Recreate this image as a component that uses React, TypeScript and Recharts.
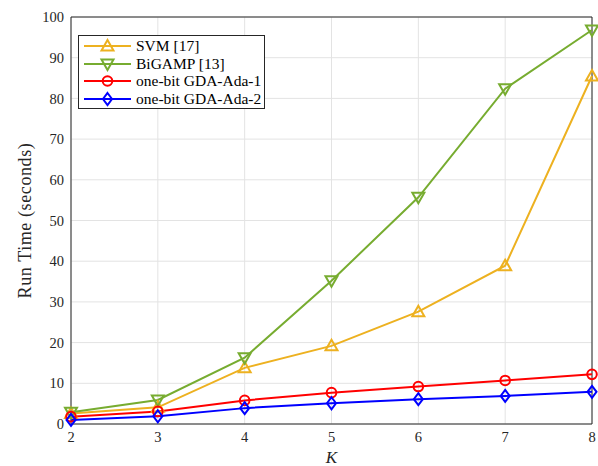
import React from "react";
import {
  LineChart,
  Line,
  XAxis,
  YAxis,
  CartesianGrid,
  Legend,
  ReferenceArea,
} from "recharts";

// K values on the x axis
const K = [2, 3, 4, 5, 6, 7, 8];
const X_TICKS = [2, 3, 4, 5, 6, 7, 8];
const Y_TICKS = [0, 10, 20, 30, 40, 50, 60, 70, 80, 90, 100];

// run time in seconds
const svm = [2.6, 4.1, 13.8, 19.2, 27.6, 38.9, 85.5];
const bigamp = [2.9, 5.9, 16.3, 35.2, 55.7, 82.4, 96.8];
const gdaAda1 = [1.8, 3.1, 5.8, 7.7, 9.2, 10.7, 12.2];
const gdaAda2 = [1.0, 1.9, 3.9, 5.1, 6.1, 6.9, 7.9];

const data = K.map((k, i) => ({
  k,
  svm: svm[i],
  bigamp: bigamp[i],
  gda1: gdaAda1[i],
  gda2: gdaAda2[i],
}));

type Shape = "up" | "down" | "circle" | "diamond";

const SERIES: { key: string; name: string; color: string; shape: Shape }[] = [
  { key: "svm", name: "SVM [17]", color: "#EDB120", shape: "up" },
  { key: "bigamp", name: "BiGAMP [13]", color: "#77AC30", shape: "down" },
  { key: "gda1", name: "one-bit GDA-Ada-1", color: "#FF0000", shape: "circle" },
  { key: "gda2", name: "one-bit GDA-Ada-2", color: "#0000FF", shape: "diamond" },
];

const FONT = '"Liberation Serif", "Times New Roman", serif';
const AXIS = "#262626";
const GRID = "#e3e3e3";

function Marker({ cx, cy, shape, color }: { cx: number; cy: number; shape: Shape; color: string }) {
  const common = { fill: "none", stroke: color, strokeWidth: 2 };
  if (shape === "up") {
    return <polygon points={`${cx},${cy - 6} ${cx - 6},${cy + 4.5} ${cx + 6},${cy + 4.5}`} {...common} />;
  }
  if (shape === "down") {
    return <polygon points={`${cx},${cy + 6} ${cx - 6},${cy - 4.5} ${cx + 6},${cy - 4.5}`} {...common} />;
  }
  if (shape === "circle") {
    return <circle cx={cx} cy={cy} r={4.8} {...common} />;
  }
  return <polygon points={`${cx},${cy - 6} ${cx + 4.5},${cy} ${cx},${cy + 6} ${cx - 4.5},${cy}`} {...common} />;
}

function dotFor(shape: Shape, color: string) {
  return (props: any) => {
    const { cx, cy, index } = props;
    if (cx == null || cy == null) return <g key={`d-${index}`} />;
    return (
      <g key={`d-${shape}-${index}`}>
        <Marker cx={cx} cy={cy} shape={shape} color={color} />
      </g>
    );
  };
}

function LegendBox() {
  return (
    <div
      style={{
        border: `1px solid ${AXIS}`,
        background: "#fff",
        width: 187,
        height: 74,
        boxSizing: "border-box",
        paddingTop: 1,
        fontFamily: FONT,
        fontSize: 15.5,
        color: "#000",
      }}
    >
      {SERIES.map((s) => (
        <div key={s.key} style={{ display: "flex", alignItems: "center", height: 17.7 }}>
          <svg width={57} height={16} style={{ flex: "none" }}>
            <line x1={5} x2={52} y1={8} y2={8} stroke={s.color} strokeWidth={2} />
            <Marker cx={28.5} cy={8} shape={s.shape} color={s.color} />
          </svg>
          <span style={{ whiteSpace: "nowrap" }}>{s.name}</span>
        </div>
      ))}
    </div>
  );
}

const tickStyle = { fontFamily: FONT, fontSize: 14.5, fill: "#262626" };

export default function App() {
  return (
    <div style={{ position: "absolute", left: 0, top: 0, background: "#fff" }}>
      <LineChart
        width={598}
        height={466}
        data={data}
        margin={{ top: 17, right: 6, bottom: 0, left: 0 }}
        style={{ fontFamily: FONT }}
      >
        <CartesianGrid stroke={GRID} strokeWidth={1} xAxisId="x" yAxisId="y" />
        <XAxis
          xAxisId="x"
          dataKey="k"
          type="number"
          domain={[2, 8]}
          ticks={X_TICKS}
          height={42}
          tickLine={false}
          axisLine={false}
          tickSize={0}
          tickMargin={8}
          tick={tickStyle}
          label={{
            content: (p: any) => {
              const vb = p.viewBox;
              return (
                <text
                  x={vb.x + vb.width / 2}
                  y={vb.y + 39}
                  textAnchor="middle"
                  fontFamily={FONT}
                  fontStyle="italic"
                  fontSize={17}
                  fill="#262626"
                >
                  K
                </text>
              );
            },
          }}
        />
        <XAxis
          xAxisId="xin"
          dataKey="k"
          type="number"
          domain={[2, 8]}
          ticks={X_TICKS}
          mirror
          tick={false}
          tickSize={5}
          axisLine={false}
          tickLine={{ stroke: AXIS, strokeWidth: 1 }}
        />
        <XAxis
          xAxisId="xtop"
          orientation="top"
          dataKey="k"
          type="number"
          domain={[2, 8]}
          ticks={X_TICKS}
          mirror
          tick={false}
          tickSize={5}
          axisLine={false}
          tickLine={{ stroke: AXIS, strokeWidth: 1 }}
        />
        <YAxis
          yAxisId="y"
          type="number"
          domain={[0, 100]}
          ticks={Y_TICKS}
          width={71}
          tickLine={false}
          axisLine={false}
          tickSize={0}
          tickMargin={7}
          tick={tickStyle}
          label={{
            content: (p: any) => {
              const vb = p.viewBox;
              const cx = 25;
              const cy = vb.y + vb.height / 2;
              return (
                <text
                  x={cx}
                  y={cy}
                  textAnchor="middle"
                  dominantBaseline="central"
                  transform={`rotate(-90 ${cx} ${cy})`}
                  fontFamily={FONT}
                  fontSize={18}
                  letterSpacing={0.6}
                  fill="#262626"
                >
                  Run Time (seconds)
                </text>
              );
            },
          }}
        />
        <YAxis
          yAxisId="yin"
          type="number"
          domain={[0, 100]}
          ticks={Y_TICKS}
          mirror
          tick={false}
          tickSize={5}
          axisLine={false}
          tickLine={{ stroke: AXIS, strokeWidth: 1 }}
        />
        <YAxis
          yAxisId="yright"
          orientation="right"
          type="number"
          domain={[0, 100]}
          ticks={Y_TICKS}
          mirror
          tick={false}
          tickSize={5}
          axisLine={false}
          tickLine={{ stroke: AXIS, strokeWidth: 1 }}
        />
        <ReferenceArea
          xAxisId="x"
          yAxisId="y"
          x1={2}
          x2={8}
          y1={0}
          y2={100}
          fill="none"
          fillOpacity={0}
          stroke={AXIS}
          strokeWidth={1}
        />
        {SERIES.map((s) => (
          <Line
            key={s.key}
            xAxisId="x"
            yAxisId="y"
            dataKey={s.key}
            name={s.name}
            stroke={s.color}
            strokeWidth={2}
            dot={dotFor(s.shape, s.color)}
            activeDot={false}
            isAnimationActive={false}
          />
        ))}
        <Legend
          layout="horizontal"
          verticalAlign="middle"
          align="center"
          wrapperStyle={{ left: 78, top: 35, width: 187, height: 74 }}
          content={() => <LegendBox />}
        />
      </LineChart>
    </div>
  );
}
